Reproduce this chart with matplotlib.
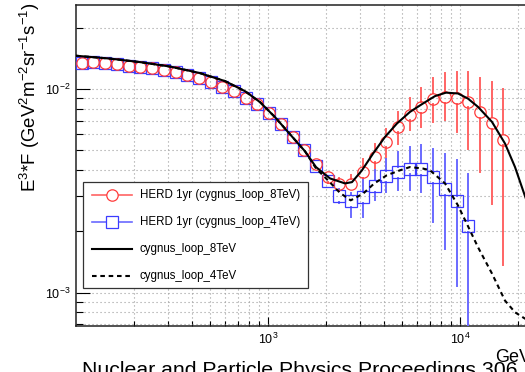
import matplotlib
matplotlib.use('Agg')
import matplotlib.pyplot as plt
from matplotlib.lines import Line2D
from matplotlib.patches import Rectangle
from matplotlib.ticker import FixedLocator, NullFormatter, FixedFormatter

plt.rcParams['font.family'] = ['Liberation Sans', 'DejaVu Sans']
plt.rcParams['mathtext.fontset'] = 'custom'
plt.rcParams['mathtext.rm'] = 'Liberation Sans'
plt.rcParams['mathtext.it'] = 'Liberation Sans:italic'
plt.rcParams['mathtext.bf'] = 'Liberation Sans:bold'

# ---------------- data ----------------
energy = [107, 123, 142, 163, 188, 216, 249, 286, 330, 379, 437, 502, 578, 665,
          766, 881, 1014, 1167, 1343, 1545, 1778, 2046, 2355, 2710, 3119, 3589,
          4130, 4753, 5470, 6295, 7244, 8337, 9594, 11041, 12706, 14622, 16827]

herd_8tev = [0.01339, 0.01363, 0.01348, 0.01323, 0.01302, 0.01288, 0.01265, 0.01240,
             0.01209, 0.01176, 0.01129, 0.01079, 0.01026, 0.00977, 0.00906, 0.00841,
             0.00759, 0.00672, 0.00582, 0.00501, 0.00427, 0.00371, 0.00340, 0.00340,
             0.00391, 0.00465, 0.00551, 0.00654, 0.00747, 0.00815, 0.00898, 0.00913,
             0.00905, 0.00866, 0.00768, 0.00682, 0.00563]
herd_8tev_hi = [0.01339, 0.01363, 0.01348, 0.01323, 0.01302, 0.01288, 0.01265, 0.01240,
                0.01209, 0.01176, 0.01129, 0.01079, 0.01026, 0.00977, 0.00906, 0.00841,
                0.00759, 0.00672, 0.00582, 0.00501, 0.00455, 0.00398, 0.00366, 0.00377,
                0.00455, 0.00540, 0.00640, 0.00773, 0.00900, 0.01008, 0.01129, 0.01195,
                0.01217, 0.01217, 0.01129, 0.01086, 0.00997]
herd_8tev_lo = [0.01339, 0.01363, 0.01348, 0.01323, 0.01302, 0.01288, 0.01265, 0.01240,
                0.01209, 0.01176, 0.01129, 0.01079, 0.01026, 0.00977, 0.00906, 0.00841,
                0.00759, 0.00672, 0.00582, 0.00501, 0.00400, 0.00345, 0.00318, 0.00318,
                0.00336, 0.00391, 0.00455, 0.00540, 0.00628, 0.00652, 0.00690, 0.00704,
                0.00616, 0.00510, 0.00391, 0.00273, 0.00136]

herd_4tev = [0.01339, 0.01363, 0.01348, 0.01323, 0.01302, 0.01288, 0.01265, 0.01240,
             0.01209, 0.01176, 0.01129, 0.01079, 0.01026, 0.00977, 0.00906, 0.00841,
             0.00759, 0.00672, 0.00582, 0.00501, 0.00418, 0.00352, 0.00297, 0.00282,
             0.00294, 0.00334, 0.00372, 0.00391, 0.00407, 0.00405, 0.00370, 0.00323,
             0.00281, 0.00212]
herd_4tev_hi = [0.01339, 0.01363, 0.01348, 0.01323, 0.01302, 0.01288, 0.01265, 0.01240,
                0.01209, 0.01176, 0.01129, 0.01079, 0.01026, 0.00977, 0.00906, 0.00841,
                0.00759, 0.00672, 0.00582, 0.00501, 0.00440, 0.00372, 0.00324, 0.00307,
                0.00356, 0.00399, 0.00455, 0.00491, 0.00520, 0.00530, 0.00510, 0.00478,
                0.00447, 0.00384]
herd_4tev_lo = [0.01339, 0.01363, 0.01348, 0.01323, 0.01302, 0.01288, 0.01265, 0.01240,
                0.01209, 0.01176, 0.01129, 0.01079, 0.01026, 0.00977, 0.00906, 0.00841,
                0.00759, 0.00672, 0.00582, 0.00501, 0.00398, 0.00333, 0.00275, 0.00235,
                0.00235, 0.00284, 0.00312, 0.00318, 0.00318, 0.00312, 0.00222, 0.00164,
                0.00108, 0.00030]

model_8tev_e = [100, 150, 215, 309, 442, 597, 759, 909, 1088, 1302, 1558, 1778, 2103,
                2518, 2738, 3087, 3524, 4068, 4697, 5491, 6417, 7411, 8455, 9763, 11007,
                12412, 14678, 17158, 19345, 21291, 23155, 24587]
model_8tev = [0.01459, 0.01413, 0.01358, 0.01291, 0.01199, 0.01095, 0.00977, 0.00863,
              0.00728, 0.00600, 0.00495, 0.00414, 0.00364, 0.00344, 0.00349, 0.00399,
              0.00482, 0.00582, 0.00678, 0.00773, 0.00850, 0.00924, 0.00961, 0.00952,
              0.00898, 0.00818, 0.00690, 0.00540, 0.00414, 0.00318, 0.00253, 0.00214]

model_4tev_e = [100, 150, 215, 309, 442, 597, 759, 909, 1088, 1302, 1558, 1778, 2103,
                2371, 2696, 3124, 3566, 4151, 4869, 5491, 6417, 6980, 8355, 9763, 11007,
                12412, 14678, 17158, 19345, 21291, 24587]
model_4tev = [0.01459, 0.01413, 0.01358, 0.01291, 0.01199, 0.01095, 0.00977, 0.00863,
              0.00728, 0.00600, 0.00495, 0.00408, 0.00348, 0.00309, 0.00284, 0.00306,
              0.00343, 0.00377, 0.00399, 0.00414, 0.00407, 0.00399, 0.00344, 0.00268,
              0.00212, 0.00167, 0.00124, 0.000913, 0.000800, 0.000755, 0.000696]

legend_labels = ['HERD 1yr (cygnus_loop_8TeV)', 'HERD 1yr (cygnus_loop_4TeV)',
                 'cygnus_loop_8TeV', 'cygnus_loop_4TeV']

RED_M = '#ff3b3b'
RED_E = '#ff6464'
BLUE_M = '#3c3cff'
BLUE_E = '#6a6aff'

# ---------------- figure ----------------
W, H = 525, 372
fig = plt.figure(figsize=(W / 100, H / 100), dpi=100)


def fx(px):
    return px / W


def fy(py):
    return 1 - py / H


ax_left, ax_top, ax_bottom = 76, 4.7, 326
ax = fig.add_axes([fx(ax_left), fy(ax_bottom), 475.6 / W, (ax_bottom - ax_top) / H])
ax.set_xscale('log')
ax.set_yscale('log')
ax.set_xlim(100, 3e4)
ax.set_ylim(6.85e-4, 0.026)

# grid
ax.grid(True, which='both', linestyle=(0, (1, 2.6)), color='#9c9c9c', lw=0.8)
ax.set_axisbelow(True)

# error bars, drawn outside marker like ROOT
gap = 1.065
def draw_err(xs, ys, lo, hi, color):
    for x, y, l, h in zip(xs, ys, lo, hi):
        if h > y * gap:
            ax.plot([x, x], [y * gap, h], color=color, lw=1.4, zorder=3)
        if l < y / gap:
            ax.plot([x, x], [max(l, 1e-5), y / gap], color=color, lw=1.4, zorder=3)

draw_err(energy, herd_8tev, herd_8tev_lo, herd_8tev_hi, RED_E)
draw_err(energy[:len(herd_4tev)], herd_4tev, herd_4tev_lo, herd_4tev_hi, BLUE_E)

ax.plot(energy[:len(herd_4tev)], herd_4tev, linestyle='none', marker='s', ms=8.2,
        mfc='none', mec=BLUE_M, mew=0.9, zorder=4)
ax.plot(energy, herd_8tev, linestyle='none', marker='o', ms=8.2,
        mfc='none', mec=RED_M, mew=0.9, zorder=4)

ax.plot(model_8tev_e, model_8tev, color='black', lw=1.5, zorder=5)
ax.plot(model_4tev_e, model_4tev, color='black', lw=1.5, dashes=(2.2, 1.8), zorder=5)

# ticks
ax.xaxis.set_major_locator(FixedLocator([1e3, 1e4]))
ax.xaxis.set_major_formatter(FixedFormatter([r'$10^{3}$', r'$10^{4}$']))
xminor = [m * 10 ** d for d in (2, 3, 4) for m in range(2, 10)]
ax.xaxis.set_minor_locator(FixedLocator(xminor))
ax.xaxis.set_minor_formatter(NullFormatter())
ax.yaxis.set_major_locator(FixedLocator([1e-3, 1e-2]))
ax.yaxis.set_major_formatter(FixedFormatter([r'$10^{-3}$', r'$10^{-2}$']))
yminor = [m * 10 ** d for d in (-4, -3, -2) for m in range(2, 10)]
ax.yaxis.set_minor_locator(FixedLocator(yminor))
ax.yaxis.set_minor_formatter(NullFormatter())

ax.tick_params(axis='both', which='both', direction='in', width=0.8, colors='black',
               labelsize=9)
ax.tick_params(axis='y', which='major', length=10, pad=4)
ax.tick_params(axis='y', which='minor', length=5)
ax.tick_params(axis='x', which='major', length=6.5, pad=4)
ax.tick_params(axis='x', which='minor', length=3.5)
for s in ax.spines.values():
    s.set_linewidth(1.1)
    s.set_color('#222222')

# y title
fig.text(fx(30), fy(2), r'E$^{3}$*F (GeV$^{2}$m$^{-2}$sr$^{-1}$s$^{-1}$)', rotation=90,
         ha='center', va='top', fontsize=13.4)
# x title (cut at right edge)
fig.text(fx(495), fy(349), 'GeV', ha='left', va='top', fontsize=13)
# caption (cut at bottom)
fig.text(fx(82), fy(361), 'Nuclear and Particle Physics Proceedings 306', ha='left',
         va='top', fontsize=15.3)

# legend drawn manually
lx0, ly0, lx1, ly1 = 83, 182, 308, 288
fig.add_artist(Rectangle((fx(lx0), fy(ly1)), fx(lx1) - fx(lx0), fy(ly0) - fy(ly1),
                         transform=fig.transFigure, facecolor='white',
                         edgecolor='#333333', lw=0.9, zorder=10))
rows = [195, 222, 249, 276]
styles = [dict(color=RED_E, lw=1.2, marker='o', ms=8.2, mfc='none', mec=RED_M, mew=0.9),
          dict(color=BLUE_E, lw=1.2, marker='s', ms=8.2, mfc='none', mec=BLUE_M, mew=0.9),
          dict(color='black', lw=1.5),
          dict(color='black', lw=1.5, dashes=(2.2, 1.8))]
for r, st, lab in zip(rows, styles, legend_labels):
    ln = Line2D([fx(92), fx(132)], [fy(r), fy(r)], transform=fig.transFigure,
                zorder=11, **st)
    ln.set_markevery([])
    fig.add_artist(ln)
    if 'marker' in st:
        fig.add_artist(Line2D([fx(112)], [fy(r)], transform=fig.transFigure, zorder=12,
                              linestyle='none', marker=st['marker'], ms=8.2,
                              mfc='white', mec=st['mec'], mew=0.9))
    fig.text(fx(140), fy(r), lab, ha='left', va='center', fontsize=8.3, zorder=12)

fig.savefig('out.png', dpi=100)
